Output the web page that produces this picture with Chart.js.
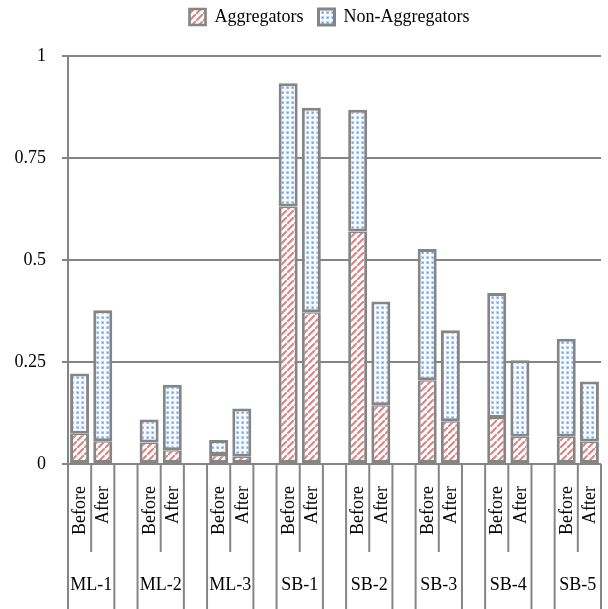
<!DOCTYPE html>
<html>
<head>
<meta charset="utf-8">
<script src="https://cdn.jsdelivr.net/npm/chart.js@4.4.1/dist/chart.umd.min.js"></script>
<style>
html,body{margin:0;padding:0;background:#fff;}
#wrap{width:608px;height:609px;}
</style>
</head>
<body>
<div id="wrap"><canvas id="c" width="608" height="609"></canvas></div>
<script>
// ---- data ----
const groups = ['ML-1', 'ML-2', 'ML-3', 'SB-1', 'SB-2', 'SB-3', 'SB-4', 'SB-5'];
const phases = ['Before', 'After'];
// values in order: ML-1 Before, ML-1 After, ML-2 Before, ...
const aggregators    = [0.074, 0.056, 0.053, 0.034, 0.022, 0.018, 0.631, 0.372, 0.570, 0.144, 0.205, 0.105, 0.113, 0.067, 0.067, 0.055];
const nonAggregators = [0.148, 0.321, 0.056, 0.160, 0.037, 0.118, 0.302, 0.501, 0.298, 0.254, 0.322, 0.223, 0.306, 0.187, 0.240, 0.147];
const yTicks = [0, 0.25, 0.5, 0.75, 1];

// ---- build slots: Before, After, (gap) per group, no gap after last ----
const slotLabels = [], aggData = [], nonData = [], slotGroup = [], slotPhase = [];
groups.forEach((g, gi) => {
  phases.forEach((p, pi) => {
    const k = gi * phases.length + pi;
    slotLabels.push(g + ' ' + p);
    aggData.push(aggregators[k]);
    nonData.push(nonAggregators[k]);
    slotGroup.push(gi); slotPhase.push(pi);
  });
  if (gi < groups.length - 1) {
    slotLabels.push('');
    aggData.push(null); nonData.push(null);
    slotGroup.push(-1); slotPhase.push(-1);
  }
});

// ---- patterns ----
function stripePattern() {
  const n = 7;
  const c = document.createElement('canvas'); c.width = n; c.height = n;
  const x = c.getContext('2d');
  x.fillStyle = '#ffffff'; x.fillRect(0, 0, n, n);
  x.strokeStyle = '#dc8585'; x.lineWidth = 2.2;
  x.beginPath();
  x.moveTo(-1, n + 1); x.lineTo(n + 1, -1);
  x.moveTo(-n - 1, 1); x.lineTo(1, -n - 1);
  x.moveTo(n - 1, 2 * n + 1); x.lineTo(2 * n + 1, n - 1);
  x.stroke();
  return document.getElementById('c').getContext('2d').createPattern(c, 'repeat');
}
function dotPattern() {
  const c = document.createElement('canvas'); c.width = 5; c.height = 5;
  const x = c.getContext('2d');
  x.fillStyle = '#f6f9fe'; x.fillRect(0, 0, 5, 5);
  x.fillStyle = '#bcd3f3'; x.fillRect(1, 1, 3, 3);
  x.fillStyle = '#6a9fe2'; x.fillRect(2, 2, 1.5, 1.5);
  return document.getElementById('c').getContext('2d').createPattern(c, 'repeat');
}

const GRAY = '#858585';
const FONT = 'Liberation Serif';

const bottomAxisPlugin = {
  id: 'bottomAxis',
  afterLayout(chart) {
    const lg = chart.legend;
    if (lg) { lg.left += 29; lg.right += 29; lg.top = -7; lg.bottom = lg.top + 40; }
  },
  afterDraw(chart) {
    const ctx = chart.ctx;
    const xs = chart.scales.x;
    const top = chart.chartArea.bottom;
    const half = (xs.getPixelForValue(1) - xs.getPixelForValue(0)) / 2;
    const shortEnd = top + 88;
    const longEnd = chart.height;
    ctx.save();
    ctx.strokeStyle = GRAY;
    ctx.lineWidth = 2;
    const vline = (x, y2) => { ctx.beginPath(); ctx.moveTo(x, top); ctx.lineTo(x, y2); ctx.stroke(); };
    ctx.fillStyle = '#000';
    ctx.font = '18px "' + FONT + '"';
    slotLabels.forEach((lab, i) => {
      if (slotGroup[i] < 0) return;
      const cx = xs.getPixelForValue(i);
      if (slotPhase[i] === 0) {
        vline(cx - half, longEnd);
        vline(cx + half, shortEnd);
      } else {
        vline(cx + half, longEnd);
        ctx.textAlign = 'center'; ctx.textBaseline = 'middle';
        ctx.fillText(groups[slotGroup[i]], cx - half, top + 121);
      }
      ctx.save();
      ctx.translate(cx + 1, top + 22);
      ctx.rotate(-Math.PI / 2);
      ctx.textAlign = 'right'; ctx.textBaseline = 'middle';
      ctx.fillText(phases[slotPhase[i]], 0, 0);
      ctx.restore();
    });
    ctx.restore();
  }
};

new Chart(document.getElementById('c'), {
  type: 'bar',
  data: {
    labels: slotLabels,
    datasets: [
      {
        label: 'Aggregators',
        data: aggData,
        backgroundColor: stripePattern(),
        borderColor: GRAY,
        borderWidth: {left: 3, right: 3, bottom: 3, top: 1.5},
        borderSkipped: false,
        barPercentage: 0.82,
        categoryPercentage: 1
      },
      {
        label: 'Non-Aggregators',
        data: nonData,
        backgroundColor: dotPattern(),
        borderColor: GRAY,
        borderWidth: 3,
        borderSkipped: false,
        barPercentage: 0.82,
        categoryPercentage: 1
      }
    ]
  },
  options: {
    responsive: false,
    animation: false,
    devicePixelRatio: 1,
    layout: {padding: {left: 0, right: 7, top: 13, bottom: 0}},
    plugins: {
      legend: {
        position: 'top',
        labels: {
          font: {family: FONT, size: 18},
          color: '#000',
          boxWidth: 16,
          boxHeight: 16,
          padding: 15
        }
      },
      tooltip: {enabled: false}
    },
    scales: {
      x: {
        type: 'category',
        stacked: true,
        offset: true,
        grid: {display: false},
        border: {display: false},
        ticks: {display: false},
        afterFit: s => { s.height = 145; }
      },
      y: {
        stacked: true,
        min: 0,
        max: 1,
        afterBuildTicks: s => { s.ticks = yTicks.map(v => ({value: v})); },
        ticks: {
          font: {family: FONT, size: 18},
          color: '#000',
          padding: 16,
          callback: v => String(v)
        },
        grid: {color: GRAY, lineWidth: 2, tickLength: 6},
        border: {color: GRAY, width: 2},
        afterFit: s => { s.width = 68; }
      }
    }
  },
  plugins: [bottomAxisPlugin]
});
</script>
</body>
</html>
